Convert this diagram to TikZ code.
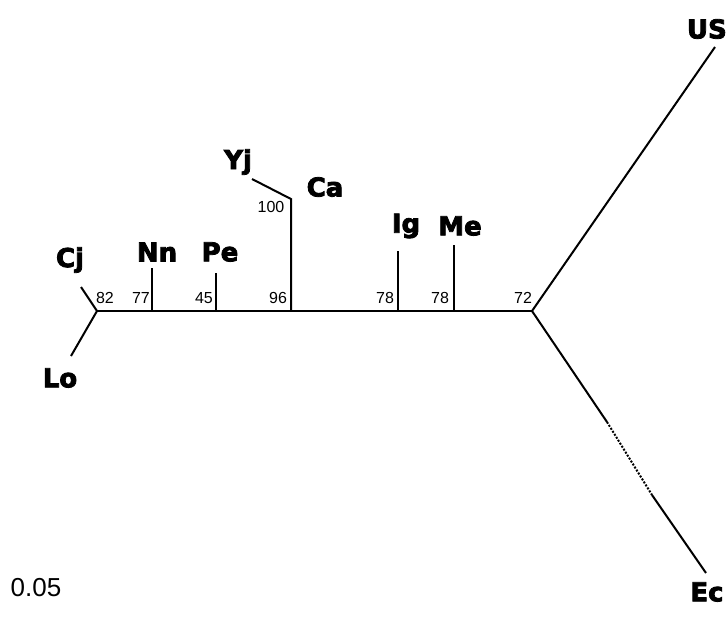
\documentclass[tikz,border=0pt]{standalone}
\usepackage{fontspec}
\newfontfamily\labfont{DejaVu Sans Bold}[FakeBold=3]
\newfontfamily\numfont{Liberation Sans}
\begin{document}
\begin{tikzpicture}[x=1pt,y=-1pt,
  branch/.style={line width=2pt,line cap=butt},
  taxon/.style={font=\labfont\fontsize{26}{26}\selectfont,inner sep=0pt},
  supp/.style={font=\numfont\fontsize{16}{16}\selectfont,inner sep=0pt},
  scalelab/.style={font=\numfont\fontsize{26}{26}\selectfont,inner sep=0pt}]
\useasboundingbox (0,0) rectangle (728,621);
% internal nodes
\coordinate (jL) at (97,311);
\coordinate (jNn) at (152,311);
\coordinate (jPe) at (216,311);
\coordinate (jCa) at (291,311);
\coordinate (jYj) at (291,199);
\coordinate (jIg) at (398,311);
\coordinate (jMe) at (454,311);
\coordinate (jR) at (532,311);
% leaves
\coordinate (tCj) at (81,287);
\coordinate (tLo) at (71,356);
\coordinate (tNn) at (152,268);
\coordinate (tPe) at (216,273);
\coordinate (tYj) at (252,179);
\coordinate (tIg) at (398,251);
\coordinate (tMe) at (454,245);
\coordinate (tUS) at (715,47);
\coordinate (dA) at (607,422);
\coordinate (dB) at (652,495);
\coordinate (tEc) at (706,573);
% branches
\draw[branch] (tCj) -- (jL) -- (tLo);
\draw[branch] (jL) -- (jNn) -- (jPe) -- (jCa) -- (jIg) -- (jMe) -- (jR);
\draw[branch] (jNn) -- (tNn);
\draw[branch] (jPe) -- (tPe);
\draw[branch] (jCa) -- (jYj) -- (tYj);
\draw[branch] (jIg) -- (tIg);
\draw[branch] (jMe) -- (tMe);
\draw[branch] (jR) -- (tUS);
\draw[branch] (jR) -- (dA);
\draw[line width=2pt,dash pattern=on 2pt off 1.5pt] (dA) -- (dB);
\draw[branch] (dB) -- (tEc);
% taxon labels
\node[taxon] (lCj) at (70,260) {Cj};
\node[taxon] (lLo) at (60,378) {Lo};
\node[taxon] (lNn) at (157,252) {Nn};
\node[taxon] (lPe) at (220,252) {Pe};
\node[taxon] (lYj) at (238,162) {Yj};
\node[taxon] (lCa) at (325,187) {Ca};
\node[taxon] (lIg) at (406,226) {Ig};
\node[taxon] (lMe) at (460,226) {Me};
\node[taxon,anchor=east] (lUS) at (727,29) {US};
\node[taxon] (lEc) at (707,592) {Ec};
% support values
\node[supp] (s82) at (105,298) {82};
\node[supp] (s77) at (141,298) {77};
\node[supp] (s45) at (204,298) {45};
\node[supp] (s96) at (278,298) {96};
\node[supp] (s100) at (271,207) {100};
\node[supp] (s78a) at (385,298) {78};
\node[supp] (s78b) at (440,298) {78};
\node[supp] (s72) at (523,298) {72};
% scale
\node[scalelab] (sc) at (36,588) {0.05};
\end{tikzpicture}
\end{document}
